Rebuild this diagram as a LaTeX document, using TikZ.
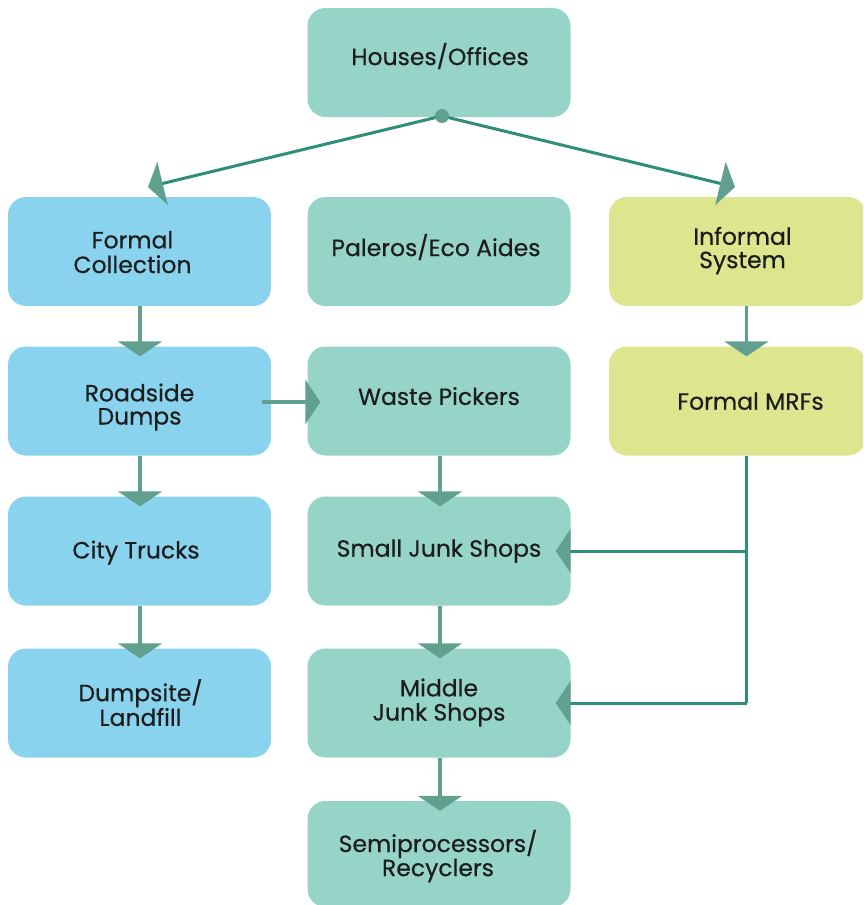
\documentclass[tikz,border=0pt]{standalone}
\usepackage{fontspec}
\setmainfont{Poppins}[FakeBold=0.4]
\usetikzlibrary{arrows.meta}
\definecolor{bluebox}{RGB}{137,211,238}
\definecolor{tealbox}{RGB}{150,212,200}
\definecolor{yelbox}{RGB}{221,230,143}
\definecolor{linec}{RGB}{47,142,122}
\definecolor{tipc}{RGB}{97,160,143}
\definecolor{txt}{RGB}{28,28,28}
% #1 = shift right, #2 = shift down, #3 = lines
\newcommand\boxtxt[3]{\raisebox{\dimexpr -#2 - 9.6pt\relax}[0pt][0pt]{\makebox[0pt]{\hspace*{#1}\hspace*{#1}\begin{tabular}{@{}c@{}}#3\end{tabular}}}}
\begin{document}
\begin{tikzpicture}[x=1pt,y=-1pt,
  box/.style={rectangle,rounded corners=18pt,minimum width=263pt,minimum height=109pt,
    inner sep=0pt,align=center,text=txt,font=\fontsize{23.5}{22.5}\selectfont},
  bluestyle/.style={box,fill=bluebox},
  tealstyle/.style={box,fill=tealbox},
  yelstyle/.style={box,fill=yelbox,minimum width=257pt},
  bigtip/.style={-{Triangle[width=44pt,length=15pt,color=tipc,fill=tipc]}},
  vconn/.style={draw=tipc,line width=3.5pt,bigtip},
  dconn/.style={draw=linec,line width=3pt,bigtip},
  bline/.style={draw=linec,line width=3pt}
]
\clip (0,0) rectangle (863,905);
\fill[white] (0,0) rectangle (863,905);

\node[tealstyle] (ho) at (439,62.5) {\boxtxt{1pt}{-8.5pt}{Houses/Offices}};
\node[bluestyle] (fc) at (139.5,251.5) {\boxtxt{-7pt}{0.5pt}{Formal\\Collection}};
\node[tealstyle] (pe) at (439,251.5) {\boxtxt{-3pt}{-6.5pt}{Paleros/Eco Aides}};
\node[yelstyle] (is) at (737.5,251.5) {\boxtxt{5pt}{-4pt}{Informal\\System}};
\node[bluestyle] (rd) at (139.5,401) {\boxtxt{0pt}{3pt}{Roadside\\Dumps}};
\node[tealstyle] (wp) at (439,401) {\boxtxt{0pt}{-5pt}{Waste Pickers}};
\node[yelstyle] (mr) at (737.5,401) {\boxtxt{13pt}{0pt}{Formal MRFs}};
\node[bluestyle] (ct) at (139.5,551) {\boxtxt{-3.5pt}{-1.5pt}{City Trucks}};
\node[tealstyle] (sj) at (439,551) {\boxtxt{0pt}{-3pt}{Small Junk Shops}};
\node[bluestyle] (dl) at (139.5,703) {\boxtxt{1pt}{-0.5pt}{Dumpsite/\\Landfill}};
\node[tealstyle] (mj) at (439,703) {\boxtxt{0pt}{-3.5pt}{Middle\\Junk Shops}};
\node[tealstyle,minimum height=106pt] (sr) at (439,854) {\boxtxt{-1pt}{-1pt}{Semiprocessors/\\Recyclers}};

\coordinate (tipL) at (148,187);
\coordinate (tipR) at (735,187);
\coordinate (dotc) at (442,116);

% diagonal connectors from the dot
\draw[dconn] (dotc) -- (tipL);
\draw[dconn] (dotc) -- (tipR);
\node[circle,fill=tipc,minimum size=14pt,inner sep=0pt] (dot) at (dotc) {};

% vertical connectors
\draw[vconn,shorten >=-10pt] ([xshift=0.5pt]fc.south) -- ([xshift=0.5pt]rd.north);
\draw[vconn,shorten >=-10pt] ([xshift=0.5pt]rd.south) -- ([xshift=0.5pt]ct.north);
\draw[vconn,shorten >=-10pt] ([xshift=0.5pt]ct.south) -- ([xshift=0.5pt]dl.north);
\draw[vconn,shorten >=-10pt] ([xshift=1pt]wp.south) -- ([xshift=1pt]sj.north);
\draw[vconn,shorten >=-10pt] ([xshift=1pt]sj.south) -- ([xshift=1pt]mj.north);
\draw[vconn,shorten >=-10pt] ([xshift=1pt]mj.south) -- ([xshift=1pt]sr.north);
\draw[vconn,shorten >=-10pt] ([xshift=9pt]is.south) -- ([xshift=9pt]mr.north);

% roadside to waste pickers
\draw[vconn,shorten >=-13pt] ([xshift=-9pt,yshift=-1pt]rd.east) -- ([yshift=-1pt]wp.west);

% formal MRFs branch
\draw[bline] ([xshift=9pt]mr.south) -- ([xshift=9pt]mr.south |- mj.east);
\draw[dconn,shorten >=-15pt] ([xshift=9pt]mr.south |- sj.east) -- (sj.east);
\draw[dconn,shorten >=-15pt] ([xshift=9pt]mr.south |- mj.east) -- (mj.east);
\end{tikzpicture}
\end{document}
